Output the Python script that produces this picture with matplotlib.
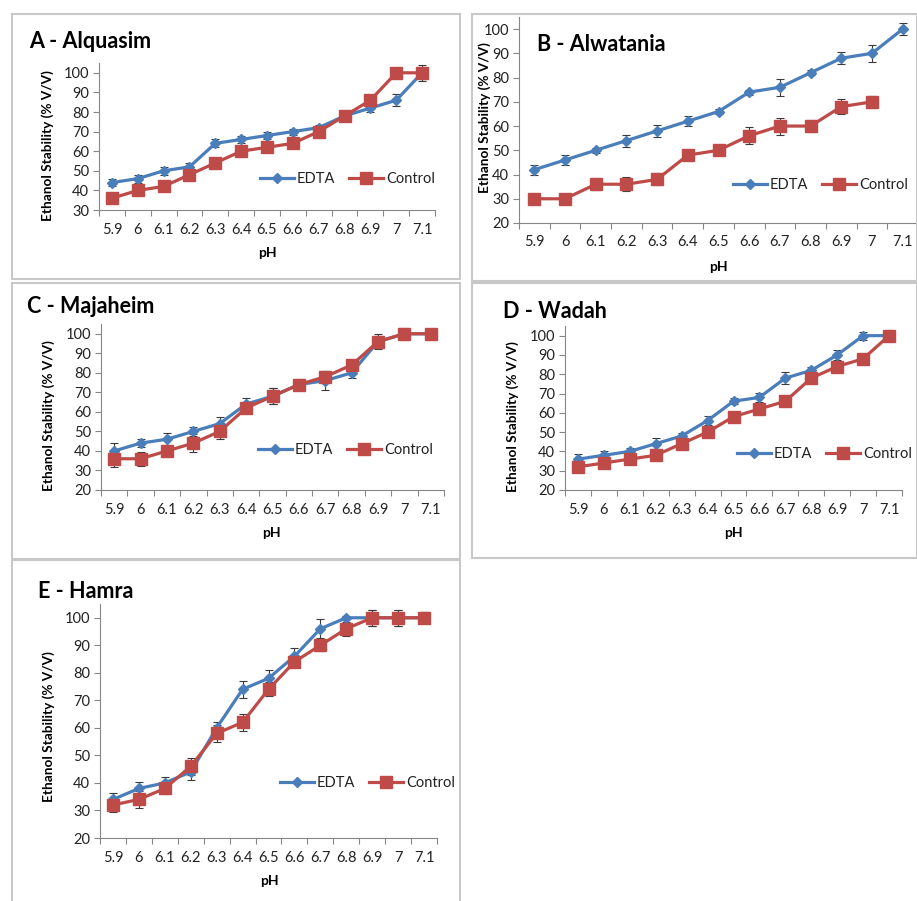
import numpy as np
import matplotlib
matplotlib.use("Agg")
import matplotlib.pyplot as plt
from matplotlib.patches import Rectangle

plt.rcParams['font.family'] = ['Lato', 'DejaVu Sans']

ph_labels = ["5.9", "6", "6.1", "6.2", "6.3", "6.4", "6.5", "6.6", "6.7", "6.8", "6.9", "7", "7.1"]

titles = ["A - Alquasim", "B - Alwatania", "C - Majaheim", "D - Wadah", "E - Hamra"]

edta_A = [44, 46, 50, 52, 64, 66, 68, 70, 72, 78, 82, 86, 100]
ctrl_A = [36, 40, 42, 48, 54, 60, 62, 64, 70, 78, 86, 100, 100]
edta_A_err = [2, 2, 2, 2, 2, 2, 2, 1.5, 1.5, 1.5, 2, 3, 3]
ctrl_A_err = [1.5, 1.5, 1.5, 1.5, 1.5, 1.5, 1.5, 1.5, 1.5, 1.5, 2, 2.5, 4]

edta_B = [42, 46, 50, 54, 58, 62, 66, 74, 76, 82, 88, 90, 100]
ctrl_B = [30, 30, 36, 36, 38, 48, 50, 56, 60, 60, 68, 70, np.nan]
edta_B_err = [2, 2, 1, 2.5, 2.5, 2, 1, 1, 3.5, 1, 2.5, 3.5, 2.5]
ctrl_B_err = [2, 2, 2.5, 3, 2.5, 1, 2, 3.5, 3.5, 2.5, 3, 2.5, np.nan]

edta_C = [40, 44, 46, 50, 54, 64, 68, 74, 76, 80, 96, 100, 100]
ctrl_C = [36, 36, 40, 44, 50, 62, 68, 74, 78, 84, 96, 100, 100]
edta_C_err = [4, 2, 3, 2.5, 3.5, 3, 4, 3, 5, 2.5, 3, 2, 1]
ctrl_C_err = [4, 3.5, 2, 4.5, 4, 2, 4, 2, 3, 2, 4, 3, 1]

edta_D = [36, 38, 40, 44, 48, 56, 66, 68, 78, 82, 90, 100, 100]
ctrl_D = [32, 34, 36, 38, 44, 50, 58, 62, 66, 78, 84, 88, 100]
edta_D_err = [2.5, 2, 2, 3, 1.5, 2.5, 1.5, 2.5, 3, 1.5, 2.5, 2, 1]
ctrl_D_err = [1, 2, 2.5, 2, 2, 2.5, 2, 2.5, 1, 2, 2.5, 2.5, 3]

edta_E = [34, 38, 40, 44, 60, 74, 78, 86, 96, 100, 100, 100, 100]
ctrl_E = [32, 34, 38, 46, 58, 62, 74, 84, 90, 96, 100, 100, 100]
edta_E_err = [2.5, 2.5, 2, 3, 2, 3, 3, 3, 3.5, 0.5, 3, 3, 2]
ctrl_E_err = [2.5, 3, 2, 3, 3, 3, 2.5, 2, 2, 2.5, 3, 3, 2]

y_mins = [30, 20, 20, 20, 20]

W, H = 917, 901
fig = plt.figure(figsize=(W / 100, H / 100), dpi=100)

def fx(x):
    return x / W

def fy(y):
    return 1 - y / H

# panel borders (pixel: left, top, right, bottom)
borders = [(12, 14, 460, 279), (472, 14, 917, 281), (12, 283, 460, 559),
           (472, 283, 917, 558), (12, 560, 460, 905)]
for (l, t, r, b) in borders:
    fig.patches.append(Rectangle((fx(l), fy(b)), fx(r - l), (b - t) / H,
                                 transform=fig.transFigure, fill=False,
                                 edgecolor="#c8c8c8", linewidth=1.5, zorder=0))

# axes (pixel: left, top(at ylim top), right, bottom)
axes_px = [(99, 63, 435, 210), (519, 17, 918, 223), (101, 324, 444, 490),
           (565, 326, 902, 490), (100, 604, 437, 838)]
title_px = [(29, 48), (537, 51), (27, 313), (503, 318), (38, 598)]
ylab_px = [(48, 146), (485, 118), (49, 416), (513, 417), (49, 727)]
xlab_px = [(267, 253), (718, 267), (271, 533), (733, 533), (269, 881)]
leg_px = [(260, 179), (733, 185), (258, 450), (737, 454), (280, 783)]

edta_all = [edta_A, edta_B, edta_C, edta_D, edta_E]
ctrl_all = [ctrl_A, ctrl_B, ctrl_C, ctrl_D, ctrl_E]
edta_err_all = [edta_A_err, edta_B_err, edta_C_err, edta_D_err, edta_E_err]
ctrl_err_all = [ctrl_A_err, ctrl_B_err, ctrl_C_err, ctrl_D_err, ctrl_E_err]

blue = "#4A7EBB"
red = "#BE4B48"
axis_col = "#868686"
txt_col = "#222222"

x = np.arange(len(ph_labels))
for i in range(5):
    l, t, r, b = axes_px[i]
    ax = fig.add_axes([fx(l), fy(b), fx(r - l), (b - t) / H])
    ax.patch.set_alpha(0)
    ymin = y_mins[i]
    e = np.array(edta_all[i], dtype=float)
    c = np.array(ctrl_all[i], dtype=float)
    ee = np.array(edta_err_all[i], dtype=float)
    ce = np.array(ctrl_err_all[i], dtype=float)
    ax.errorbar(x, e, yerr=ee, fmt="none", ecolor="#3a3a3a", elinewidth=0.8,
                capsize=3, capthick=0.8, zorder=2)
    ax.errorbar(x, c, yerr=ce, fmt="none", ecolor="#3a3a3a", elinewidth=0.8,
                capsize=3, capthick=0.8, zorder=2)
    ax.plot(x, e, color=blue, lw=2.3, marker="D", markersize=5.5,
            markerfacecolor=blue, markeredgecolor=blue, label="EDTA", zorder=3)
    ax.plot(x, c, color=red, lw=2.3, marker="s", markersize=8,
            markerfacecolor=red, markeredgecolor=red, label="Control", zorder=3)
    ax.set_xlim(-0.5, len(ph_labels) - 0.5)
    ax.set_ylim(ymin, 105)
    ax.set_yticks(np.arange(ymin, 101, 10))
    ax.set_xticks(x)
    ax.set_xticklabels(ph_labels)
    ax.set_xticks(np.arange(-0.5, len(ph_labels)), minor=True)
    ax.tick_params(axis="x", which="major", length=0, pad=9, labelsize=10.5,
                   colors=txt_col)
    ax.tick_params(axis="x", which="minor", length=4, direction="out",
                   color=axis_col, width=0.8)
    ax.tick_params(axis="y", length=4, direction="out", color=axis_col,
                   width=0.8, labelsize=10.5, labelcolor=txt_col, pad=3)
    for s in ("top", "right"):
        ax.spines[s].set_visible(False)
    for s in ("left", "bottom"):
        ax.spines[s].set_color(axis_col)
        ax.spines[s].set_linewidth(0.8)
    lx, ly = leg_px[i]
    leg = ax.legend(loc="center left", bbox_to_anchor=(fx(lx), fy(ly)),
                    bbox_transform=fig.transFigure, ncol=2, frameon=False,
                    fontsize=10.5, handlelength=2.3, handletextpad=0.2,
                    columnspacing=1.0, borderpad=0, borderaxespad=0)
    for txt in leg.get_texts():
        txt.set_color(txt_col)
    tx, ty = title_px[i]
    fig.text(fx(tx), fy(ty), titles[i], fontsize=15.5, fontweight="bold",
             ha="left", va="baseline", color="black")
    yx, yy = ylab_px[i]
    fig.text(fx(yx), fy(yy), "Ethanol Stability (% V/V)", fontsize=9.8,
             fontweight="bold", rotation=90, ha="center", va="center")
    xx, xy = xlab_px[i]
    fig.text(fx(xx), fy(xy), "pH", fontsize=10, fontweight="bold",
             ha="center", va="center")

fig.savefig("out.png", dpi=100)
